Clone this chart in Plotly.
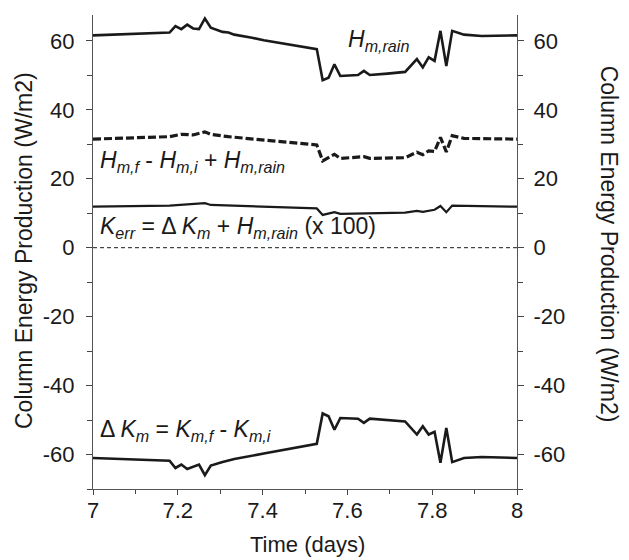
import plotly.graph_objects as go

# ---- data ----
t_top = [7.0, 7.1806, 7.1944, 7.2083, 7.2222, 7.2361, 7.25, 7.2639, 7.2778, 7.3056, 7.3194, 7.3333,
         7.375, 7.4028, 7.5278, 7.5417, 7.5556, 7.5694, 7.5833, 7.625, 7.6389, 7.6528, 7.6944,
         7.7361, 7.7639, 7.7778, 7.7917, 7.8056, 7.8194, 7.8333, 7.8472, 7.875, 7.9167, 8.0]
h_rain = [61.6, 62.4, 64.3, 63.4, 64.7, 63.6, 63.4, 66.5, 63.8, 62.6, 62.4, 61.8,
          60.9, 60.2, 57.6, 48.6, 49.3, 53.2, 49.8, 50.1, 51.3, 50.1, 50.5,
          51.0, 54.7, 52.3, 55.2, 54.2, 62.9, 52.7, 62.9, 61.8, 61.4, 61.6]

t_bot = [7.0, 7.1806, 7.1944, 7.2083, 7.2222, 7.25, 7.2639, 7.2778, 7.3056, 7.3333,
         7.4028, 7.5278, 7.5417, 7.5556, 7.5694, 7.5833, 7.625, 7.6389, 7.6528, 7.6944,
         7.7361, 7.7639, 7.7778, 7.7917, 7.8056, 7.8194, 7.8333, 7.8472, 7.875, 7.9167, 8.0]
dk_m = [-61.0, -61.8, -63.9, -62.9, -64.2, -62.9, -66.0, -63.2, -62.2, -61.3,
        -59.7, -56.9, -48.1, -48.9, -52.8, -49.4, -49.6, -50.8, -49.6, -49.9,
        -50.4, -54.2, -51.8, -54.2, -53.4, -62.4, -52.3, -62.2, -61.0, -60.7, -61.0]

t_mid = [7.0, 7.1806, 7.2083, 7.2361, 7.2639, 7.2778, 7.3194, 7.4028, 7.5278, 7.5417,
         7.5694, 7.5833, 7.6389, 7.6528, 7.7361, 7.7639, 7.7778, 7.7917, 7.8056, 7.8194,
         7.8333, 7.8472, 7.875, 8.0]
h_budget = [31.5, 32.2, 32.9, 32.7, 33.6, 32.9, 32.2, 31.2, 29.8, 25.2,
            27.1, 25.9, 26.4, 25.9, 26.1, 27.7, 27.0, 28.1, 27.9, 32.0,
            27.8, 32.5, 31.7, 31.5]

t_err = [7.0, 7.1806, 7.2639, 7.2778, 7.5278, 7.5417, 7.5694, 7.5833, 7.7361, 7.7639,
         7.7778, 7.8056, 7.8194, 7.8333, 7.8472, 8.0]
k_err = [11.9, 12.2, 12.9, 12.4, 11.4, 9.5, 10.3, 9.8, 10.2, 10.7,
         10.4, 11.0, 12.1, 10.3, 12.2, 11.9]

y_ticks = [-60, -40, -20, 0, 20, 40, 60]
y_ticklabels = ["-60", "-40", "-20", "0", "20", "40", "60"]
x_ticks = [7, 7.2, 7.4, 7.6, 7.8, 8]
x_ticklabels = ["7", "7.2", "7.4", "7.6", "7.8", "8"]

FONT = "Liberation Sans, Arial, Helvetica, sans-serif"
INK = "#1a1a1a"

fig = go.Figure()
fig.add_trace(go.Scatter(x=t_top, y=h_rain, mode="lines",
                         line=dict(color=INK, width=2.6), showlegend=False))
fig.add_trace(go.Scatter(x=t_mid, y=h_budget, mode="lines",
                         line=dict(color=INK, width=3.2, dash="8px,3px"), showlegend=False))
fig.add_trace(go.Scatter(x=t_err, y=k_err, mode="lines",
                         line=dict(color=INK, width=2.2), showlegend=False))
fig.add_trace(go.Scatter(x=t_bot, y=dk_m, mode="lines",
                         line=dict(color=INK, width=2.6), showlegend=False))
# invisible trace to activate the right axis
fig.add_trace(go.Scatter(x=[t_top[0]], y=[h_rain[0]], yaxis="y2", mode="markers",
                         marker=dict(opacity=0), showlegend=False, hoverinfo="skip"))

fig.add_shape(type="line", xref="paper", x0=0, x1=1, yref="y", y0=0, y1=0,
              line=dict(color=INK, width=1, dash="4px,3px"))

axis_common = dict(showline=True, linecolor="#555", linewidth=1.2, ticks="outside",
                   tickcolor="#444", tickwidth=1.2,
                   tickfont=dict(size=22, color=INK, family=FONT),
                   showgrid=False, zeroline=False)

yrng = [-70, 67.5]
minor_y = dict(dtick=10, tick0=0, ticks="outside", ticklen=5, tickcolor="#444")
fig.update_layout(
    width=629, height=560,
    margin=dict(l=93, r=112, t=15, b=71),
    paper_bgcolor="white", plot_bgcolor="white",
    font=dict(family=FONT, color=INK),
    xaxis=dict(range=[7, 8], tickvals=x_ticks, ticktext=x_ticklabels, ticklen=5,
               minor=dict(dtick=0.1, tick0=7, ticks="outside", ticklen=4, tickcolor="#444"),
               ticklabelstandoff=-4, **axis_common),
    yaxis=dict(range=yrng, tickvals=y_ticks, ticktext=y_ticklabels, minor=minor_y, ticklen=6,
               ticklabelstandoff=7, **axis_common),
    yaxis2=dict(range=yrng, tickvals=y_ticks, ticktext=y_ticklabels, overlaying="y", side="right",
                minor=minor_y, ticklen=6, ticklabelstandoff=5, **axis_common),
)

title_font = dict(size=23, family=FONT, color=INK)
fig.add_annotation(text="Column Energy Production (W/m2)", textangle=-90,
                   xref="paper", yref="paper", x=-0.163, y=0.504, showarrow=False,
                   xanchor="center", yanchor="middle", font=title_font)
fig.add_annotation(text="Column Energy Production (W/m2)", textangle=90,
                   xref="paper", yref="paper", x=1.2175, y=0.517, showarrow=False,
                   xanchor="center", yanchor="middle", font=title_font)
fig.add_annotation(text="Time (days)", xref="paper", yref="paper", x=0.507, y=-0.118,
                   showarrow=False, xanchor="center", yanchor="middle",
                   font=dict(size=22, family=FONT, color=INK))

ann_font = dict(size=23, family=FONT, color=INK)
fig.add_annotation(text="<i>H<sub>m,rain</sub></i>", x=7.597, y=60.2, xref="x", yref="y",
                   showarrow=False, xanchor="left", yanchor="middle", font=ann_font)
fig.add_annotation(text="<i>H<sub>m,f</sub></i> - <i>H<sub>m,i</sub></i> + <i>H<sub>m,rain</sub></i>",
                   x=7.012, y=25.0, xref="x", yref="y",
                   showarrow=False, xanchor="left", yanchor="middle", font=ann_font)
fig.add_annotation(text="<i>K<sub>err</sub></i> = \u0394 <i>K<sub>m</sub></i> + <i>H<sub>m,rain</sub></i> (x 100)",
                   x=7.012, y=6.0, xref="x", yref="y",
                   showarrow=False, xanchor="left", yanchor="middle", font=ann_font)
fig.add_annotation(text="\u0394 <i>K<sub>m</sub></i> = <i>K<sub>m,f</sub></i> - <i>K<sub>m,i</sub></i>",
                   x=7.012, y=-53.0, xref="x", yref="y",
                   showarrow=False, xanchor="left", yanchor="middle", font=ann_font)

fig.write_html("out.html")
